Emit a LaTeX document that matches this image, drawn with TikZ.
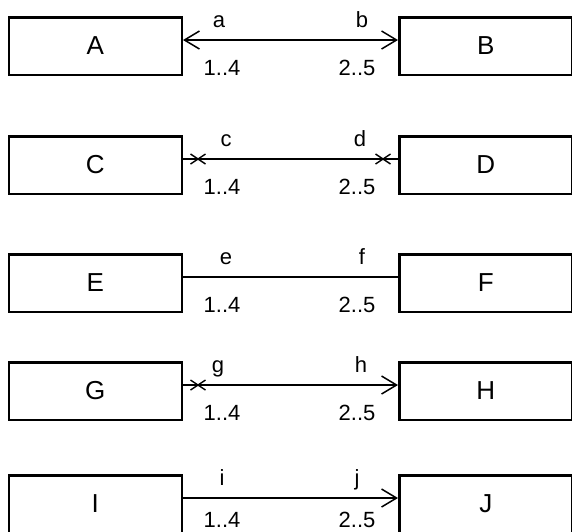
\documentclass[tikz,border=0pt]{standalone}
\usepackage{fontspec}
\setmainfont{Liberation Sans}
\usetikzlibrary{arrows.meta}
\newcommand\boxfont{\fontsize{26}{30}\selectfont}
\newcommand\lblfont{\fontsize{22}{26}\selectfont}
\tikzset{
  box/.style={draw, line width=2.5pt, minimum width=173pt, minimum height=57.5pt, inner sep=0pt, font=\boxfont},
  lbl/.style={font=\lblfont, anchor=base, inner sep=0pt},
  assoc/.style={line width=1.4pt},
  boldassoc/.style={line width=2.7pt},
  openhead/.tip={Straight Barb[length=15pt,width=18pt,line width=1.5pt]},
  crossmark/.pic={\draw[line width=1.4pt] (-7.5,-5) -- (7.5,5) (-7.5,5) -- (7.5,-5);}
}
\begin{document}
\begin{tikzpicture}[x=1pt,y=-1pt]
\useasboundingbox (0,0) rectangle (572,531);
\clip (0,0) rectangle (572,531);
% row A-B
\node[box] (A) at (95.25,46) {A};
\node[box] (B) at (485.75,46) {B};
\coordinate (aL) at ([yshift=6pt]A.east);
\coordinate (aR) at ([yshift=6pt]B.west);
\draw[boldassoc,openhead-openhead] (aL) -- (aR);
\node[lbl] (la) at (219,27) {a};
\node[lbl] (lb) at (362,27) {b};
\node[lbl] (m14a) at (222,75) {1..4};
\node[lbl] (m25a) at (357,75) {2..5};
% row C-D
\node[box] (C) at (95.25,165) {C};
\node[box] (D) at (485.75,165) {D};
\coordinate (cL) at ([yshift=6pt]C.east);
\coordinate (cR) at ([yshift=6pt]D.west);
\draw[assoc] (cL) -- (cR);
\pic at ([xshift=15pt]cL) {crossmark};
\pic at ([xshift=-15pt]cR) {crossmark};
\node[lbl] (lc) at (226,146) {c};
\node[lbl] (ld) at (360,146) {d};
\node[lbl] (m14c) at (222,194) {1..4};
\node[lbl] (m25c) at (357,194) {2..5};
% row E-F
\node[box] (E) at (95.25,283) {E};
\node[box] (F) at (485.75,283) {F};
\coordinate (eL) at ([yshift=6pt]E.east);
\coordinate (eR) at ([yshift=6pt]F.west);
\draw[assoc] (eL) -- (eR);
\node[lbl] (le) at (226,264) {e};
\node[lbl] (lf) at (362,264) {f};
\node[lbl] (m14e) at (222,312) {1..4};
\node[lbl] (m25e) at (357,312) {2..5};
% row G-H
\node[box] (G) at (95.25,391) {G};
\node[box] (H) at (485.75,391) {H};
\coordinate (gL) at ([yshift=6pt]G.east);
\coordinate (gR) at ([yshift=6pt]H.west);
\draw[assoc,-openhead] (gL) -- (gR);
\pic at ([xshift=15pt]gL) {crossmark};
\node[lbl] (lg) at (218,372) {g};
\node[lbl] (lh) at (361,372) {h};
\node[lbl] (m14g) at (222,420) {1..4};
\node[lbl] (m25g) at (357,420) {2..5};
% row I-J
\node[box] (I) at (95.25,504) {I};
\node[box] (J) at (485.75,504) {J};
\coordinate (iL) at ([yshift=6pt]I.east);
\coordinate (iR) at ([yshift=6pt]J.west);
\draw[assoc,-openhead] (iL) -- (iR);
\node[lbl] (li) at (222,485) {i};
\node[lbl] (lj) at (357,485) {j};
\node[lbl] (m14i) at (222,527) {1..4};
\node[lbl] (m25i) at (357,527) {2..5};
\end{tikzpicture}
\end{document}
